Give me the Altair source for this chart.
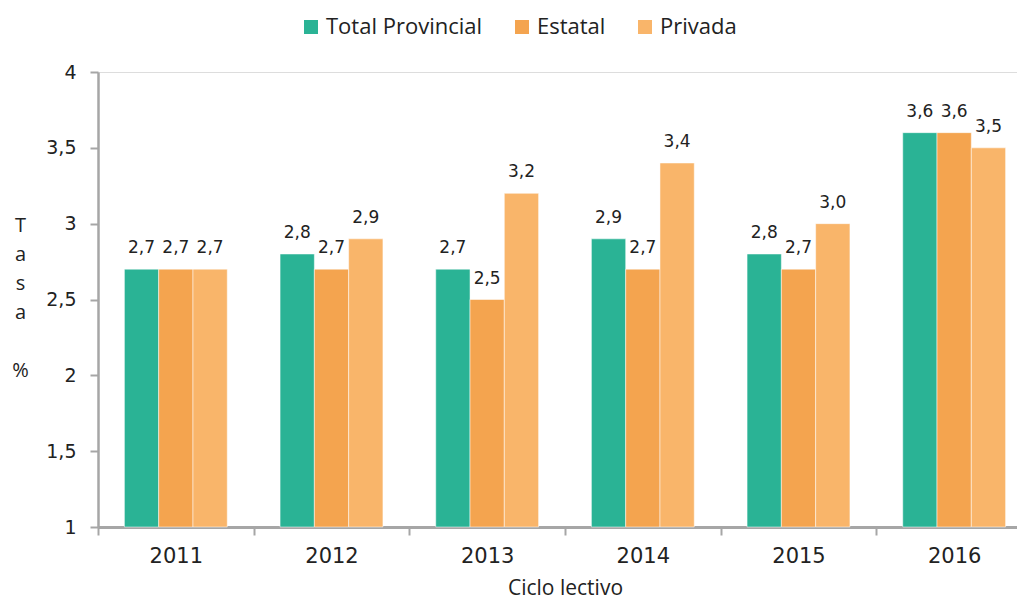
import altair as alt
import pandas as pd

years = ["2011", "2012", "2013", "2014", "2015", "2016"]
series = ["Total Provincial", "Estatal", "Privada"]
total = [2.7, 2.8, 2.7, 2.9, 2.8, 3.6]
estatal = [2.7, 2.7, 2.5, 2.7, 2.7, 3.6]
privada = [2.7, 2.9, 3.2, 3.4, 3.0, 3.5]
colors = ["#2AB395", "#F4A44F", "#F9B56A"]
y_ticks = [1, 1.5, 2, 2.5, 3, 3.5, 4]

rows = []
for i, yr in enumerate(years):
    for s, vals in zip(series, [total, estatal, privada]):
        rows.append({"year": yr, "serie": s, "valor": vals[i]})
df = pd.DataFrame(rows)
df["label"] = df["valor"].map(lambda v: f"{v:.1f}".replace(".", ","))

FONT = "Open Sans"
NUMFONT = "DejaVu Sans"
AXC = "#A6A6A6"
TXT = "#222222"

x_enc = alt.X(
    "year:N",
    sort=years,
    scale=alt.Scale(paddingInner=0, paddingOuter=0, range=[0, 934]),
    axis=alt.Axis(
        title="Ciclo lectivo",
        labelAngle=0,
        tickBand="extent",
        domainColor=AXC,
        domainWidth=3,
        tickColor=AXC,
        tickWidth=2,
        tickSize=8,
        labelFontSize=21,
        labelFont=NUMFONT,
        labelColor=TXT,
        labelPadding=10,
        titleFont=FONT,
        titleFontSize=21,
        titleFontWeight="normal",
        titleColor=TXT,
        titlePadding=11,
    ),
)
xoff = alt.XOffset("serie:N", sort=series, scale=alt.Scale(paddingInner=0, paddingOuter=0.77))
y_enc = alt.Y(
    "valor:Q",
    scale=alt.Scale(domain=[1, 4], zero=False, nice=False),
    axis=alt.Axis(
        values=y_ticks,
        labelExpr="replace(format(datum.value, '.1~f'), '.', ',')",
        grid=False,
        domainColor=AXC,
        domainWidth=2.5,
        tickColor=AXC,
        tickWidth=2,
        tickSize=8,
        labelFontSize=19,
        labelFont=NUMFONT,
        labelColor=TXT,
        labelPadding=14,
        title=["T", "a", "s", "a", "\u2800", "%"],
        titleAngle=0,
        titleX=-78,
        titleY=143,
        titleAlign="center",
        titleBaseline="top",
        titleFont=FONT,
        titleFontSize=20,
        titleFontWeight="normal",
        titleColor=TXT,
        titleLineHeight=29,
    ),
)

color_enc = alt.Color(
    "serie:N",
    sort=series,
    scale=alt.Scale(domain=series, range=colors),
    legend=alt.Legend(
        title=None,
        orient="none",
        legendX=202,
        legendY=-56,
        direction="horizontal",
        symbolType="square",
        symbolSize=196,
        symbolStrokeWidth=0,
        symbolOpacity=1,
        labelFont=FONT,
        labelFontSize=22,
        labelColor=TXT,
        labelOffset=4,
        columnPadding=28,
    ),
)

bars = alt.Chart(df).mark_bar(stroke="white", strokeWidth=0.5).encode(
    x=x_enc, xOffset=xoff, y=y_enc, y2=alt.datum(1), color=color_enc
)

labels = alt.Chart(df).mark_text(
    font=NUMFONT, fontSize=17, color=TXT, baseline="alphabetic", dy=-16
).encode(x=x_enc, xOffset=xoff, y=y_enc, text="label:N")

chart = (
    alt.layer(bars, labels)
    .properties(
        width=919,
        height=455,
        autosize=alt.AutoSizeParams(type="none"),
        padding={"left": 90, "top": 64, "right": 0, "bottom": 74},
    )
    .configure_view(stroke=None)
    .configure(background="white")
)

chart.save("out.html", embed_options={"renderer": "svg", "actions": False})
